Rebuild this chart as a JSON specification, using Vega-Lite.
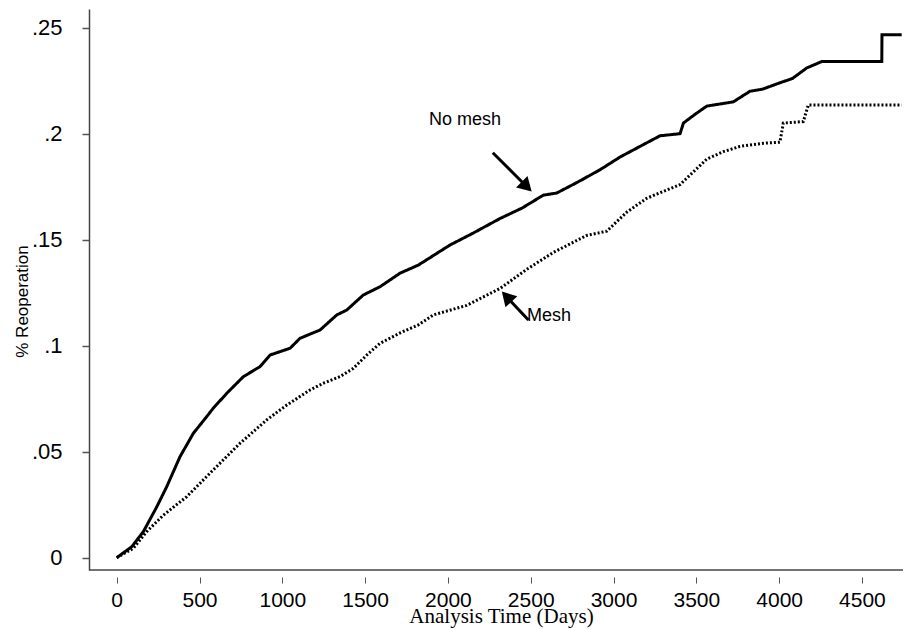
{
  "$schema": "https://vega.github.io/schema/vega-lite/v6.json",
  "width": 814,
  "height": 561,
  "autosize": {"type": "none"},
  "padding": {"left": 89, "top": 9, "right": 8, "bottom": 59},
  "background": "white",
  "config": {"view": {"stroke": null}, "font": "Liberation Sans"},
  "datasets": {
    "curves": [
      {"series": "No mesh", "day": 0, "v": 0},
      {"series": "No mesh", "day": 91, "v": 0.0052},
      {"series": "No mesh", "day": 161, "v": 0.0123},
      {"series": "No mesh", "day": 242, "v": 0.024},
      {"series": "No mesh", "day": 302, "v": 0.0335},
      {"series": "No mesh", "day": 382, "v": 0.0476},
      {"series": "No mesh", "day": 463, "v": 0.0587},
      {"series": "No mesh", "day": 543, "v": 0.0665},
      {"series": "No mesh", "day": 583, "v": 0.0705},
      {"series": "No mesh", "day": 664, "v": 0.0775},
      {"series": "No mesh", "day": 765, "v": 0.0854},
      {"series": "No mesh", "day": 865, "v": 0.0901},
      {"series": "No mesh", "day": 926, "v": 0.0956},
      {"series": "No mesh", "day": 1047, "v": 0.0988},
      {"series": "No mesh", "day": 1107, "v": 0.1035},
      {"series": "No mesh", "day": 1228, "v": 0.1074},
      {"series": "No mesh", "day": 1329, "v": 0.1145},
      {"series": "No mesh", "day": 1389, "v": 0.1168},
      {"series": "No mesh", "day": 1489, "v": 0.1239},
      {"series": "No mesh", "day": 1590, "v": 0.1278},
      {"series": "No mesh", "day": 1711, "v": 0.1342},
      {"series": "No mesh", "day": 1821, "v": 0.138},
      {"series": "No mesh", "day": 2013, "v": 0.1475},
      {"series": "No mesh", "day": 2150, "v": 0.153},
      {"series": "No mesh", "day": 2315, "v": 0.16},
      {"series": "No mesh", "day": 2450, "v": 0.165},
      {"series": "No mesh", "day": 2576, "v": 0.171},
      {"series": "No mesh", "day": 2657, "v": 0.172},
      {"series": "No mesh", "day": 2780, "v": 0.177},
      {"series": "No mesh", "day": 2919, "v": 0.183},
      {"series": "No mesh", "day": 3040, "v": 0.189},
      {"series": "No mesh", "day": 3160, "v": 0.194},
      {"series": "No mesh", "day": 3281, "v": 0.199},
      {"series": "No mesh", "day": 3402, "v": 0.2},
      {"series": "No mesh", "day": 3422, "v": 0.205},
      {"series": "No mesh", "day": 3490, "v": 0.209},
      {"series": "No mesh", "day": 3563, "v": 0.213},
      {"series": "No mesh", "day": 3723, "v": 0.215},
      {"series": "No mesh", "day": 3824, "v": 0.22},
      {"series": "No mesh", "day": 3900, "v": 0.221},
      {"series": "No mesh", "day": 4005, "v": 0.224},
      {"series": "No mesh", "day": 4080, "v": 0.226},
      {"series": "No mesh", "day": 4167, "v": 0.231},
      {"series": "No mesh", "day": 4257, "v": 0.234},
      {"series": "No mesh", "day": 4620, "v": 0.234},
      {"series": "No mesh", "day": 4621, "v": 0.2466},
      {"series": "No mesh", "day": 4740, "v": 0.2466},
      {"series": "Mesh", "day": 0, "v": 0},
      {"series": "Mesh", "day": 100, "v": 0.0044},
      {"series": "Mesh", "day": 181, "v": 0.0123},
      {"series": "Mesh", "day": 281, "v": 0.02},
      {"series": "Mesh", "day": 423, "v": 0.0288},
      {"series": "Mesh", "day": 583, "v": 0.0414},
      {"series": "Mesh", "day": 745, "v": 0.054},
      {"series": "Mesh", "day": 906, "v": 0.065},
      {"series": "Mesh", "day": 1027, "v": 0.072},
      {"series": "Mesh", "day": 1167, "v": 0.0791},
      {"series": "Mesh", "day": 1248, "v": 0.0823},
      {"series": "Mesh", "day": 1348, "v": 0.0854},
      {"series": "Mesh", "day": 1429, "v": 0.0893},
      {"series": "Mesh", "day": 1510, "v": 0.0956},
      {"series": "Mesh", "day": 1590, "v": 0.1011},
      {"series": "Mesh", "day": 1711, "v": 0.106},
      {"series": "Mesh", "day": 1821, "v": 0.1098},
      {"series": "Mesh", "day": 1912, "v": 0.1145},
      {"series": "Mesh", "day": 2113, "v": 0.119},
      {"series": "Mesh", "day": 2315, "v": 0.127},
      {"series": "Mesh", "day": 2476, "v": 0.136},
      {"series": "Mesh", "day": 2637, "v": 0.144},
      {"series": "Mesh", "day": 2838, "v": 0.152},
      {"series": "Mesh", "day": 2959, "v": 0.154},
      {"series": "Mesh", "day": 3080, "v": 0.163},
      {"series": "Mesh", "day": 3200, "v": 0.1695},
      {"series": "Mesh", "day": 3402, "v": 0.176},
      {"series": "Mesh", "day": 3563, "v": 0.188},
      {"series": "Mesh", "day": 3663, "v": 0.1915},
      {"series": "Mesh", "day": 3764, "v": 0.194},
      {"series": "Mesh", "day": 3905, "v": 0.1955},
      {"series": "Mesh", "day": 4005, "v": 0.196},
      {"series": "Mesh", "day": 4025, "v": 0.205},
      {"series": "Mesh", "day": 4146, "v": 0.2057},
      {"series": "Mesh", "day": 4176, "v": 0.2135},
      {"series": "Mesh", "day": 4740, "v": 0.2135}
    ],
    "labels": [
      {"label": "No mesh", "day": 2103, "v": 0.2065},
      {"label": "Mesh", "day": 2610, "v": 0.114}
    ],
    "arrows": [
      {"name": "No mesh", "day": 2271, "v": 0.191, "day2": 2466, "v2": 0.1758},
      {"name": "Mesh", "day": 2486, "v": 0.1121, "day2": 2364, "v2": 0.1223}
    ]
  },
  "encoding": {
    "x": {
      "field": "day", "type": "quantitative", "title": "Analysis Time (Days)",
      "scale": {"domain": [-167.3, 4748], "nice": false, "zero": false},
      "axis": {
        "values": [0, 500, 1000, 1500, 2000, 2500, 3000, 3500, 4000, 4500],
        "format": "d",
        "domain": false, "offset": 7, "grid": false,
        "tickSize": 6, "tickColor": "#555", "tickWidth": 1,
        "labelFontSize": 21, "labelColor": "black", "labelPadding": 6,
        "labelFont": "Liberation Sans", "labelFlush": false, "labelOverlap": false,
        "titleFont": "Liberation Serif",
        "titleFontSize": 21, "titleFontWeight": "normal", "titleColor": "black",
        "titleX": 412, "titleY": 45, "titleBaseline": "alphabetic", "titleAlign": "center"
      }
    },
    "y": {
      "field": "v", "type": "quantitative", "title": "% Reoperation",
      "scale": {"domain": [-0.0058, 0.2588], "nice": false, "zero": false},
      "axis": {
        "values": [0, 0.05, 0.1, 0.15, 0.2, 0.25],
        "labelExpr": "datum.value == 0 ? '0' : substring(format(datum.value, '.2~f'), 1)",
        "domain": true, "domainColor": "#444", "domainWidth": 1.5, "grid": false,
        "tickSize": 7, "tickColor": "#555", "tickWidth": 1.5,
        "labelFontSize": 22, "labelColor": "black", "labelPadding": 20,
        "labelFont": "Liberation Sans", "labelFlush": false, "labelOverlap": false,
        "titleFont": "Liberation Sans",
        "titleFontSize": 17, "titleFontWeight": "normal", "titleColor": "black",
        "titleAngle": 270, "titleX": -67, "titleY": 292, "titleBaseline": "middle", "titleAlign": "center"
      }
    }
  },
  "layer": [
    {
      "data": {"name": "curves"},
      "mark": {"type": "line", "color": "black", "strokeWidth": 3},
      "encoding": {
        "detail": {"field": "series", "type": "nominal"},
        "strokeDash": {
          "field": "series", "type": "nominal",
          "scale": {"domain": ["No mesh", "Mesh"], "range": [[1, 0], [2, 2]]},
          "legend": null
        }
      }
    },
    {
      "data": {"name": "labels"},
      "mark": {"type": "text", "font": "Liberation Sans", "fontSize": 18, "color": "black", "align": "center", "baseline": "middle"},
      "encoding": {
        "text": {"field": "label"}
      }
    },
    {
      "data": {"name": "arrows"},
      "mark": {"type": "rule", "color": "black", "strokeWidth": 3},
      "encoding": {
        "x2": {"field": "day2"},
        "y2": {"field": "v2"}
      }
    },
    {
      "data": {"name": "arrows"},
      "transform": [{"filter": "datum.name == 'No mesh'"}, {"calculate": "datum.day2", "as": "day"}, {"calculate": "datum.v2", "as": "v"}],
      "mark": {"type": "point", "shape": "triangle", "filled": true, "color": "black", "opacity": 1, "size": 260, "angle": 135}
    },
    {
      "data": {"name": "arrows"},
      "transform": [{"filter": "datum.name == 'Mesh'"}, {"calculate": "datum.day2", "as": "day"}, {"calculate": "datum.v2", "as": "v"}],
      "mark": {"type": "point", "shape": "triangle", "filled": true, "color": "black", "opacity": 1, "size": 260, "angle": 317}
    },
    {
      "data": {"values": [{"v": -0.0058}]},
      "mark": {"type": "rule", "color": "#444", "strokeWidth": 1.5},
      "encoding": {"x": null}
    }
  ]
}
